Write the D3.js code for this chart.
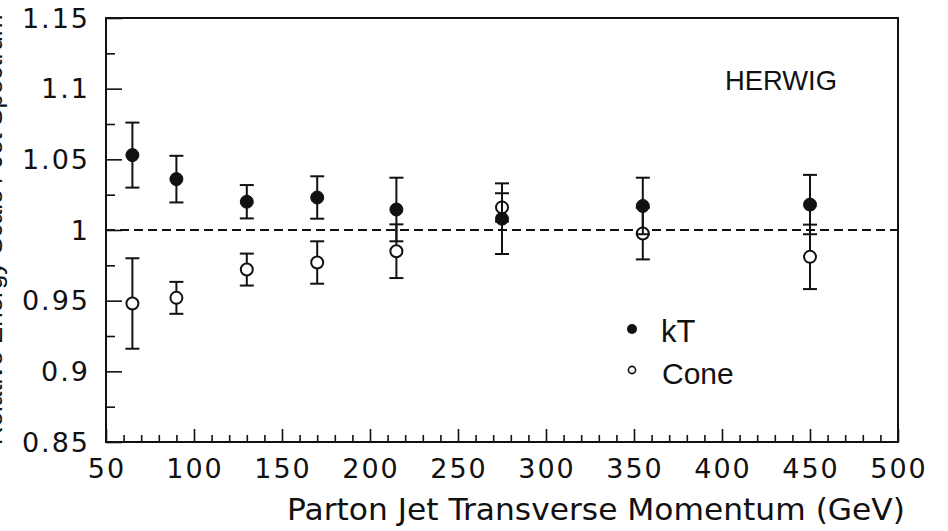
<!DOCTYPE html>
<html>
<head>
<meta charset="utf-8">
<script src="https://cdn.jsdelivr.net/npm/d3@7"></script>
<style>
  html, body { margin: 0; padding: 0; background: #fff; }
  svg { display: block; }
</style>
</head>
<body>
<svg id="chart" width="948" height="531"></svg>
<script>
// ---- data ----
const ptValues   = [65, 90, 130, 170, 215, 275, 355, 450];
const ktValues   = [1.053, 1.036, 1.020, 1.023, 1.0145, 1.008, 1.017, 1.018];
const ktErrors   = [0.023, 0.0165, 0.0118, 0.015, 0.0225, 0.025, 0.020, 0.021];
const coneValues = [0.948, 0.952, 0.972, 0.977, 0.985, 1.016, 0.9975, 0.981];
const coneErrors = [0.032, 0.0113, 0.0113, 0.015, 0.019, 0.010, 0.0183, 0.0228];
const xTickValues = [50, 100, 150, 200, 250, 300, 350, 400, 450, 500];
const yTickValues = [0.85, 0.9, 0.95, 1, 1.05, 1.1, 1.15];
const yTickLabels = ["0.85", "0.9", "0.95", "1", "1.05", "1.1", "1.15"];
const seriesNames = ["kT", "Cone"];
const xTitle = "Parton Jet Transverse Momentum (GeV)";
const yTitle = "Relative Energy Scale / Jet Spectrum";
const annotation = "HERWIG";
const refLine = 1.0;

// ---- layout ----
const svg = d3.select("#chart");
const L = 106, R = 898, T = 18, B = 442;
const x = d3.scaleLinear().domain([50, 500]).range([L, R]);
const y = d3.scaleLinear().domain([0.85, 1.15]).range([B, T]);
const ink = "#111";
const tickFont = "DejaVu Sans, sans-serif";

// minor ticks
const xMinor = d3.range(50, 501, 10).filter(v => v % 50 !== 0);
const yMinor = d3.range(0, 12).map(i => 0.875 + i * 0.05).filter(v => v < 1.15);

// x axis (ticks pointing up into the plot)
const gx = svg.append("g").attr("transform", `translate(0,${B})`)
  .call(d3.axisTop(x).tickValues(xTickValues).tickSize(13).tickFormat(""));
gx.select(".domain").remove();
gx.selectAll("line").attr("stroke", ink).attr("stroke-width", 1.6);
const gxm = svg.append("g").attr("transform", `translate(0,${B})`)
  .call(d3.axisTop(x).tickValues(xMinor).tickSize(7).tickFormat(""));
gxm.select(".domain").remove();
gxm.selectAll("line").attr("stroke", ink).attr("stroke-width", 1.6);

svg.append("g").selectAll("text").data(xTickValues).join("text")
  .attr("x", d => x(d) + 1)
  .attr("y", 478)
  .attr("text-anchor", "middle")
  .attr("font-family", tickFont)
  .attr("font-size", 27)
  .attr("letter-spacing", 2)
  .attr("fill", ink)
  .text(d => d);

// y axis (ticks pointing right into the plot)
const gy = svg.append("g").attr("transform", `translate(${L},0)`)
  .call(d3.axisRight(y).tickValues(yTickValues).tickSize(16).tickFormat(""));
gy.select(".domain").remove();
gy.selectAll("line").attr("stroke", ink).attr("stroke-width", 1.6);
const gym = svg.append("g").attr("transform", `translate(${L},0)`)
  .call(d3.axisRight(y).tickValues(yMinor).tickSize(9).tickFormat(""));
gym.select(".domain").remove();
gym.selectAll("line").attr("stroke", ink).attr("stroke-width", 1.6);

svg.append("g").selectAll("text").data(yTickValues).join("text")
  .attr("x", 90)
  .attr("y", d => y(d))
  .attr("dy", "0.36em")
  .attr("text-anchor", "end")
  .attr("font-family", tickFont)
  .attr("font-size", 27)
  .attr("letter-spacing", 2)
  .attr("fill", ink)
  .text((d, i) => yTickLabels[i]);

// frame
svg.append("rect")
  .attr("x", L).attr("y", T).attr("width", R - L).attr("height", B - T)
  .attr("fill", "none").attr("stroke", ink).attr("stroke-width", 2);

// dashed reference line
svg.append("line")
  .attr("x1", L).attr("x2", R).attr("y1", y(refLine)).attr("y2", y(refLine))
  .attr("stroke", ink).attr("stroke-width", 1.8).attr("stroke-dasharray", "9,5");

// error bars + markers
function drawSeries(vals, errs, filled) {
  const g = svg.append("g");
  const data = ptValues.map((p, i) => ({ p, v: vals[i], e: errs[i] }));
  const cap = 7;
  g.selectAll("line.v").data(data).join("line")
    .attr("x1", d => x(d.p)).attr("x2", d => x(d.p))
    .attr("y1", d => y(d.v - d.e)).attr("y2", d => y(d.v + d.e))
    .attr("stroke", ink).attr("stroke-width", 2);
  g.selectAll("line.t").data(data).join("line")
    .attr("x1", d => x(d.p) - cap).attr("x2", d => x(d.p) + cap)
    .attr("y1", d => y(d.v + d.e)).attr("y2", d => y(d.v + d.e))
    .attr("stroke", ink).attr("stroke-width", 2);
  g.selectAll("line.b").data(data).join("line")
    .attr("x1", d => x(d.p) - cap).attr("x2", d => x(d.p) + cap)
    .attr("y1", d => y(d.v - d.e)).attr("y2", d => y(d.v - d.e))
    .attr("stroke", ink).attr("stroke-width", 2);
  g.selectAll("circle").data(data).join("circle")
    .attr("cx", d => x(d.p)).attr("cy", d => y(d.v))
    .attr("r", filled ? 6.5 : 6)
    .attr("fill", filled ? ink : "#fff")
    .attr("stroke", ink).attr("stroke-width", filled ? 1 : 2);
}
drawSeries(coneValues, coneErrors, false);
drawSeries(ktValues, ktErrors, true);

// annotation
svg.append("text")
  .attr("x", 725).attr("y", 90)
  .attr("font-family", "Liberation Sans, Arial, sans-serif")
  .attr("font-size", 28)
  .attr("textLength", 112).attr("lengthAdjust", "spacingAndGlyphs")
  .attr("fill", ink)
  .text(annotation);

// legend
const leg = svg.append("g");
leg.append("circle").attr("cx", 632).attr("cy", 329).attr("r", 5).attr("fill", ink);
leg.append("circle").attr("cx", 632).attr("cy", 370).attr("r", 3.6)
  .attr("fill", "#fff").attr("stroke", ink).attr("stroke-width", 1.6);
leg.append("text").attr("x", 661).attr("y", 342)
  .attr("font-family", "Liberation Sans, Arial, sans-serif").attr("font-size", 31)
  .attr("fill", ink).text(seriesNames[0]);
leg.append("text").attr("x", 662).attr("y", 384)
  .attr("font-family", "Liberation Sans, Arial, sans-serif").attr("font-size", 30)
  .attr("fill", ink).text(seriesNames[1]);

// axis titles
svg.append("text")
  .attr("x", 905).attr("y", 520)
  .attr("text-anchor", "end")
  .attr("font-family", "DejaVu Sans, sans-serif")
  .attr("font-size", 30)
  .attr("textLength", 618).attr("lengthAdjust", "spacingAndGlyphs")
  .attr("fill", ink)
  .text(xTitle);

svg.append("text")
  .attr("transform", `translate(2,${(T + B) / 2}) rotate(-90)`)
  .attr("text-anchor", "middle")
  .attr("font-family", "Liberation Sans, Arial, sans-serif")
  .attr("font-size", 26)
  .attr("fill", ink)
  .text(yTitle);
</script>
</body>
</html>
